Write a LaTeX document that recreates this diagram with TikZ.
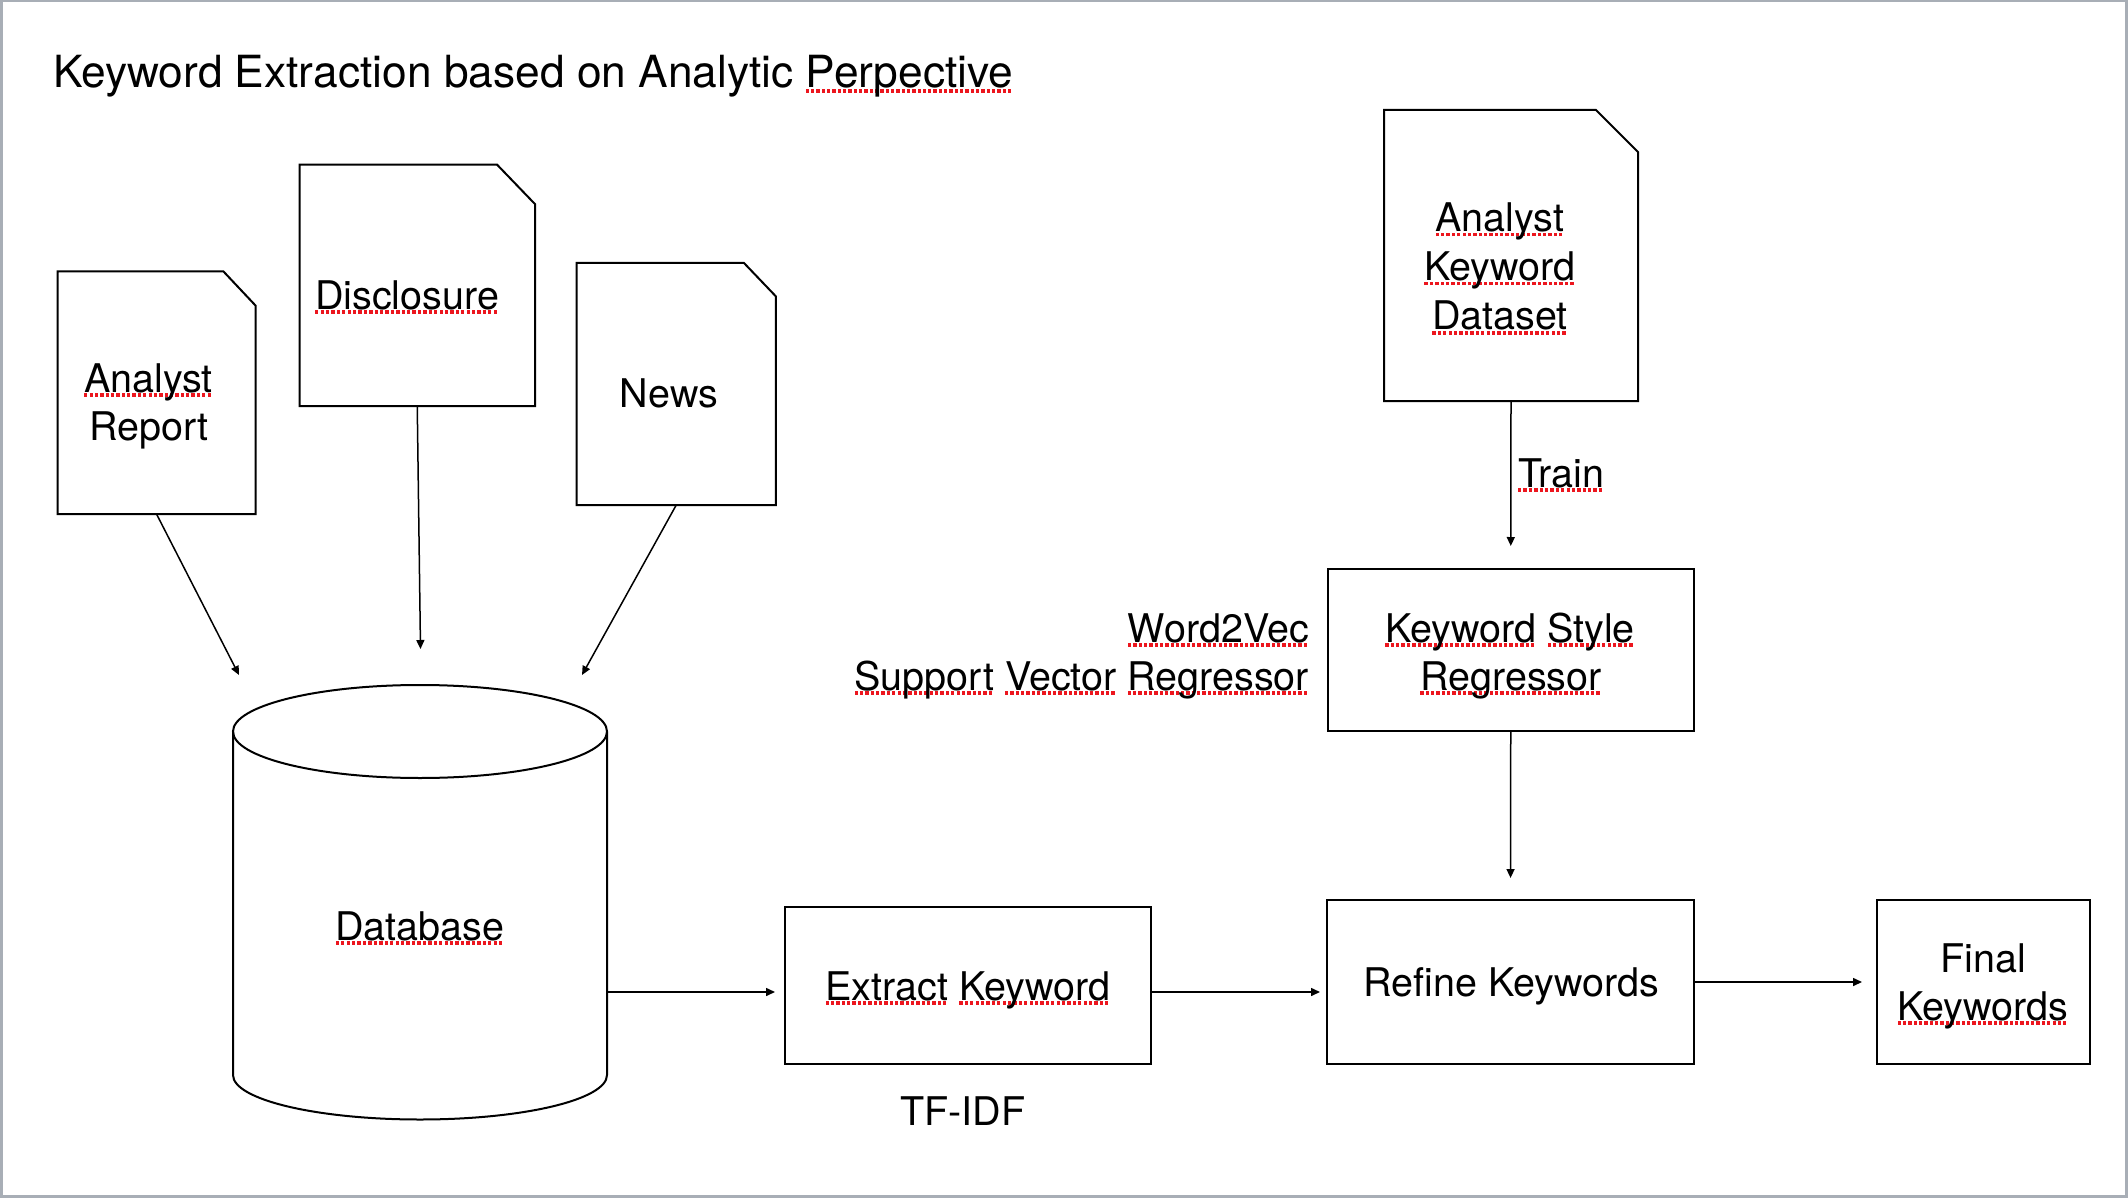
\documentclass[tikz,border=0pt]{standalone}
\usepackage{fontspec}
\setmainfont{TeX Gyre Heros}
\usetikzlibrary{arrows.meta,calc}
\definecolor{framegray}{RGB}{168,174,182}
\definecolor{sqred}{RGB}{236,22,30}
\newcommand\sq[1]{\setbox0=\hbox{#1}\leavevmode\rlap{\color{sqred}\hbox to\wd0{\xleaders\hbox{\rule[-4.6pt]{3.3pt}{3.3pt}\hskip2pt}\hfill}}\box0\relax}
\newcommand\docoutline[3]{\draw[boxline] (#1.north west) -- ($(#1.north east)+(-#2,0)$) -- ($(#1.north east)+(0,-#3)$) -- (#1.south east) -- (#1.south west) -- cycle;}
\begin{document}
\begin{tikzpicture}[x=1pt,y=1pt,
  txt/.style={inner sep=0pt, outer sep=0pt, anchor=base, font=\fontsize{39.5}{49}\selectfont},
  titletxt/.style={inner sep=0pt, outer sep=0pt, anchor=base west, font=\fontsize{44.3}{53}\selectfont},
  area/.style={rectangle, inner sep=0pt, outer sep=0pt},
  boxline/.style={line width=2pt, line join=miter},
  conn/.style={line width=1.5pt, -{Triangle[length=9pt,width=8pt]}}]
\useasboundingbox (0,0) rectangle (2128,-1198);
\fill[framegray] (0,0) rectangle (2128,-1198);
\fill[white] (3,-2) rectangle (2125,-1195);

% title
\node[titletxt] (title) at (53,-88) {Keyword Extraction based on Analytic \sq{Perpective}};

% documents
\node[area, minimum width=198pt, minimum height=242.5pt] (ar) at (156.5,-392.75) {};
\docoutline{ar}{32}{34}
\node[area, minimum width=235.5pt, minimum height=241.4pt] (dis) at (417.25,-285.3) {};
\docoutline{dis}{38}{39.5}
\node[area, minimum width=199.3pt, minimum height=242.1pt] (news) at (676.25,-383.95) {};
\docoutline{news}{32}{33.5}
\node[area, minimum width=254pt, minimum height=291pt] (ds) at (1511,-255.5) {};
\docoutline{ds}{42}{42}

% database cylinder
\node[area, minimum width=374pt, minimum height=434.5pt] (db) at (420,-902.25) {};
\draw[boxline] (420,-731.5) ellipse [x radius=187, y radius=46.5];
\draw[boxline] (233,-731.5) -- (233,-1075) arc[start angle=180, end angle=360, x radius=187, y radius=44.5] -- (607,-731.5);

% boxes
\node[area, draw, boxline, minimum width=366.5pt, minimum height=162pt] (ksr) at (1510.75,-650) {};
\node[area, draw, boxline, minimum width=366pt, minimum height=157pt] (ext) at (968,-985.2) {};
\node[area, draw, boxline, minimum width=367pt, minimum height=164pt] (ref) at (1510.5,-982) {};
\node[area, draw, boxline, minimum width=213pt, minimum height=164pt] (fin) at (1983.5,-982) {};

% arrow end points above the database
\coordinate (t1) at (239,-675);
\coordinate (t2) at (420.5,-649);
\coordinate (t3) at (582,-675);

% connectors
\draw[conn] (ar.south) -- (t1);
\draw[conn] (dis.south) -- (t2);
\draw[conn] (news.south) -- (t3);
\draw[conn, shorten >=23pt] (ds.south) -- (ksr.north);
\draw[conn, shorten >=22pt] (ksr.south) -- (ref.north);
\draw[conn, shorten >=10pt] ([yshift=-89.75pt]db.east) -- ([yshift=-6.8pt]ext.west);
\draw[conn, shorten >=7pt] ([yshift=-6.8pt]ext.east) -- ([yshift=-10pt]ref.west);
\draw[conn, shorten >=15pt] (ref.east) -- (fin.west);

% texts
\node[txt] (arl1) at (148.5,-392) {\sq{Analyst}};
\node[txt] (arl2) at (149,-440) {Report};
\node[txt] (disl) at (407,-309) {\sq{Disclosure}};
\node[txt] (newsl) at (669,-407) {News};
\node[txt] (dsl1) at (1500,-231.5) {\sq{Analyst}};
\node[txt] (dsl2) at (1500,-280.5) {\sq{Keyword}};
\node[txt] (dsl3) at (1500,-330) {\sq{Dataset}};
\node[txt, anchor=base west] (trainl) at (1518,-487) {\sq{Train}};
\node[txt, anchor=base east] (w2v) at (1309,-642) {\sq{Word2Vec}};
\node[txt, anchor=base east] (svr) at (1309,-690) {\sq{Support} \sq{Vector} \sq{Regressor}};
\node[txt] (ksl1) at (1510,-642) {\sq{Keyword} \sq{Style}};
\node[txt] (ksl2) at (1511,-690) {\sq{Regressor}};
\node[txt] (dbl) at (420,-940) {\sq{Database}};
\node[txt] (extl) at (968,-1000) {\sq{Extract} \sq{Keyword}};
\node[txt] (tfidf) at (963,-1125) {TF-IDF};
\node[txt] (refl) at (1511.5,-996) {Refine Keywords};
\node[txt] (finl1) at (1983,-972) {Final};
\node[txt] (finl2) at (1983,-1020) {\sq{Keywords}};
\end{tikzpicture}
\end{document}
